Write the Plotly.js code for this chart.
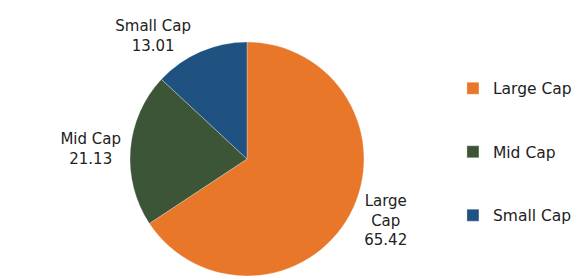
<!DOCTYPE html>
<html>
<head>
<meta charset="utf-8">
<script src="https://cdn.plot.ly/plotly-3.0.1.min.js"></script>
<style>html,body{margin:0;padding:0;background:#fff;}#chart{width:577px;height:276px;}</style>
</head>
<body>
<div id="chart"></div>
<script>
const categories = ["Large Cap", "Mid Cap", "Small Cap"];
const wrappedLabels = ["Large<br>Cap", "Mid Cap", "Small Cap"];
const values = [65.42, 21.13, 13.01];
const colors = ["#E8772A", "#3B5536", "#1F5280"];

const legendNames = categories.map(c => "<br>" + c + "<br> ");

const data = [{
  type: "pie",
  labels: legendNames,
  values: values,
  customdata: wrappedLabels,
  sort: false,
  direction: "clockwise",
  rotation: 0,
  marker: {colors: colors, line: {color: "#ffffff", width: 0.3}},
  textposition: "outside",
  texttemplate: "%{customdata}<br>%{value:.2f}",
  textfont: {family: "DejaVu Sans, sans-serif", size: 15, color: "#222"},
  hoverinfo: "value",
  domain: {x: [0.2253, 0.6308], y: [0, 0.848]},
  automargin: false
}];

const layout = {
  width: 577, height: 276,
  margin: {l: 0, r: 0, t: 0, b: 0, autoexpand: false},
  paper_bgcolor: "#fff",
  showlegend: true,
  legend: {
    x: 0.785, y: 0.449, xanchor: "left", yanchor: "middle",
    bgcolor: "rgba(0,0,0,0)",
    font: {family: "DejaVu Sans, sans-serif", size: 15.5, color: "#222"},
    itemwidth: 30
  }
};

Plotly.newPlot("chart", data, layout, {displayModeBar: false, staticPlot: true});
</script>
</body>
</html>
